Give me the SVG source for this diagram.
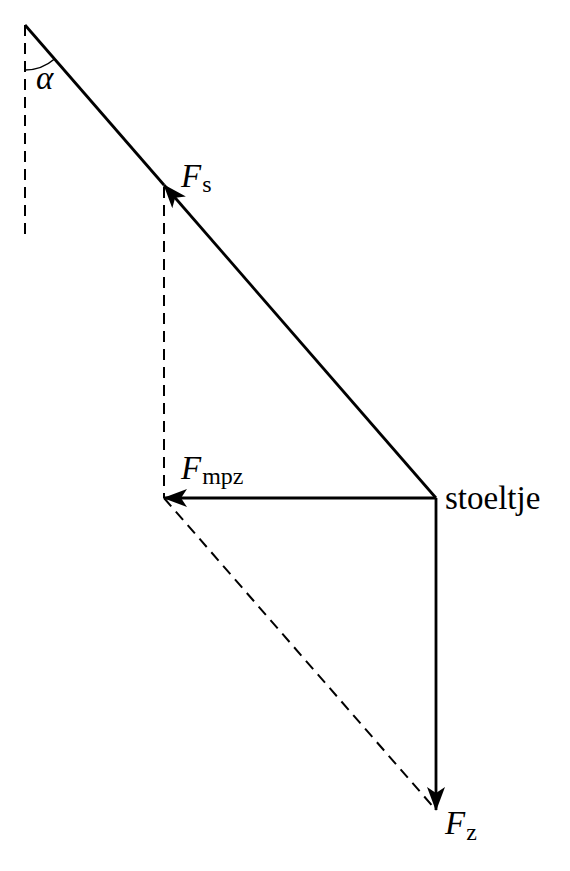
<svg xmlns="http://www.w3.org/2000/svg" width="570" height="871" viewBox="0 0 570 871">
<style>
.s{stroke:#000;stroke-width:2.8;fill:none}
.d{stroke:#000;stroke-width:2;fill:none;stroke-dasharray:11,7}
text{font-family:'Liberation Serif','Times New Roman','DejaVu Serif',serif;font-size:33px;fill:#000}
.i{font-style:italic}
.sub{font-size:24px}
</style>
<defs>
<marker id="ah" viewBox="0 0 24 18" refX="23" refY="9" markerWidth="24" markerHeight="18" markerUnits="userSpaceOnUse" orient="auto">
<path d="M0,0 L24,9 L0,18 L6,9 Z" fill="#000"/>
</marker>
</defs>
<rect width="570" height="871" fill="#fff"/>
<g id="connectors">
<path class="d" d="M25,25 V237"/>
<path class="s" d="M25,25 L164,185"/>
<path class="s" d="M436,498 L164,185" marker-end="url(#ah)"/>
<path class="d" d="M164,187 V498"/>
<path class="s" d="M436,498 H164" marker-end="url(#ah)"/>
<path class="d" d="M164,498 L436,810"/>
<path class="s" d="M436,498 V810" marker-end="url(#ah)"/>
<path class="s" style="stroke-width:1.5" d="M25,70 A45,45 0 0 0 54.5,59"/>
</g>
<g id="alpha"><text class="i" x="36" y="89">α</text></g>
<g id="Fs"><text x="181" y="187"><tspan class="i">F</tspan><tspan class="sub" dx="1" dy="5">s</tspan></text></g>
<g id="Fmpz"><text x="181" y="479"><tspan class="i">F</tspan><tspan class="sub" dx="1" dy="5">mpz</tspan></text></g>
<g id="stoeltje"><text x="445" y="509">stoeltje</text></g>
<g id="Fz"><text x="445" y="834"><tspan class="i">F</tspan><tspan class="sub" dx="1" dy="6">z</tspan></text></g>
</svg>
